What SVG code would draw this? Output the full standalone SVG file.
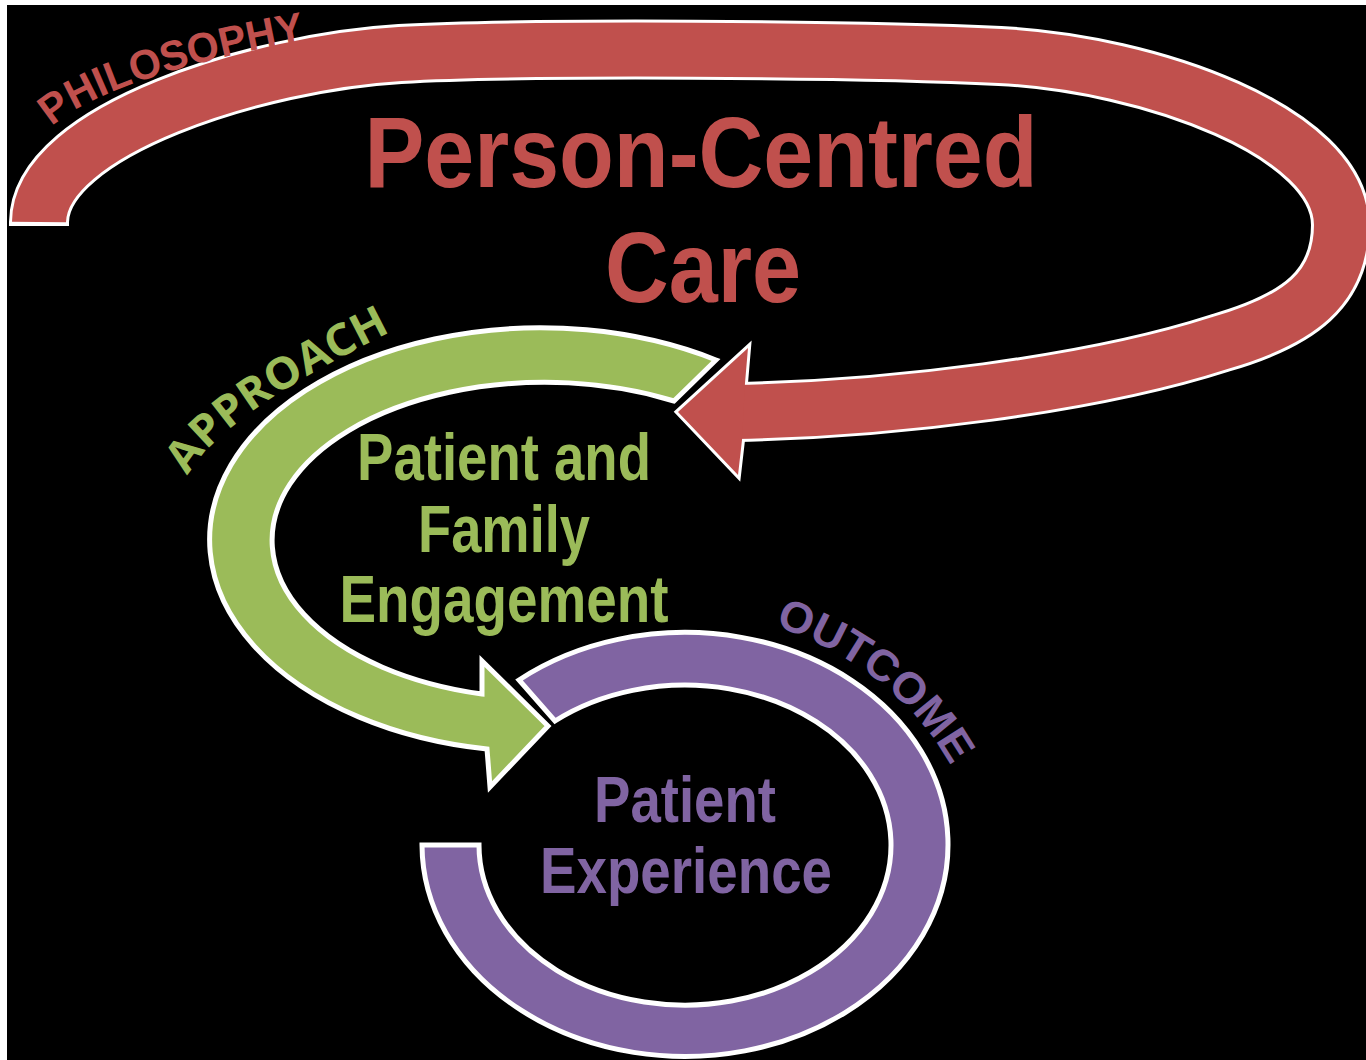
<svg xmlns="http://www.w3.org/2000/svg" width="1366" height="1060" viewBox="0 0 1366 1060">
  <style>
    .title { font-family: "Liberation Sans Narrow", "Liberation Sans", Arial, sans-serif; font-weight: bold; }
    .lbl { font-family: "Liberation Sans", Arial, sans-serif; font-weight: bold; }
    .lbl2 { font-family: "Open Sans", "Liberation Sans", sans-serif; font-weight: bold; }
    .red { fill: #C0504D; }
    .green { fill: #9BBB59; }
    .purple { fill: #8064A2; }
    .band { stroke: #FFFFFF; stroke-width: 5; stroke-linejoin: miter; }
  </style>
  <defs>
    <path id="redLine" d="M39,222 C40,130 260,62 400,54 C520,47 860,49 1000,56 C1150,63.5 1341,132 1341,225 C1341,288 1300,320 1220,343 C1090,385 890,409 735,412"/>
    <path id="pathPhil" d="M52,127 C85,94 190,60 303,41"/>
    <path id="pathAppr" d="M188,476 C216,420 335,360 390,332"/>
    <path id="pathOut" d="M775,626 C830,644 905,685 950,764"/>
  </defs>

  <rect x="0" y="0" width="1366" height="1060" fill="#FFFFFF"/>
  <rect x="7" y="5" width="1359" height="1055" fill="#000000"/>

  <g id="connectors">
    <g id="philosophy-arrow">
      <path d="M39,226 L39,222 C40,130 260,62 400,54 C520,47 860,49 1000,56 C1150,63.5 1341,132 1341,225 C1341,288 1300,320 1220,343 C1090,385 890,409 735,412" fill="none" stroke="#FFFFFF" stroke-width="60"/>
      <polygon points="745,383 748,348 678,412 738,475 742,440" class="red" stroke="#FFFFFF" stroke-width="6" stroke-linejoin="miter"/>
      <use href="#redLine" fill="none" stroke="#C0504D" stroke-width="54"/>
      <polygon points="745,383 748,348 678,412 738,475 742,440" class="red"/>
    </g>
    <path id="approach-arrow" class="green band" d="M716,360 A331,212 0 1 0 487,749 L490,787 L548,726 L482,661 L482,694 A273,158 0 1 1 674,401 Z"/>
    <path id="outcome-arc" class="purple band" d="M519,680 A263,212 0 1 1 422,845 L479,845 A206,160 0 1 0 555,721 Z"/>
  </g>

  <g id="node-person-centred-care">
    <text class="title red" x="701" y="187" font-size="100" text-anchor="middle" textLength="673" lengthAdjust="spacingAndGlyphs">Person-Centred</text>
    <text class="title red" x="703" y="302" font-size="100" text-anchor="middle" textLength="196" lengthAdjust="spacingAndGlyphs">Care</text>
    <text class="lbl red" font-size="42"><textPath href="#pathPhil" textLength="270" lengthAdjust="spacingAndGlyphs">PHILOSOPHY</textPath></text>
  </g>

  <g id="node-patient-family-engagement">
    <text class="title green" x="504" y="480" font-size="66" text-anchor="middle" textLength="294" lengthAdjust="spacingAndGlyphs">Patient and</text>
    <text class="title green" x="504" y="552" font-size="66" text-anchor="middle" textLength="172" lengthAdjust="spacingAndGlyphs">Family</text>
    <text class="title green" x="504" y="622" font-size="66" text-anchor="middle" textLength="329" lengthAdjust="spacingAndGlyphs">Engagement</text>
    <text class="lbl2 green" font-size="44"><textPath href="#pathAppr" textLength="252" lengthAdjust="spacingAndGlyphs">APPROACH</textPath></text>
  </g>

  <g id="node-patient-experience">
    <text class="title purple" x="685" y="822" font-size="64" text-anchor="middle" textLength="182" lengthAdjust="spacingAndGlyphs">Patient</text>
    <text class="title purple" x="686" y="893" font-size="64" text-anchor="middle" textLength="292" lengthAdjust="spacingAndGlyphs">Experience</text>
    <text class="lbl purple" font-size="44"><textPath href="#pathOut" textLength="230" lengthAdjust="spacingAndGlyphs">OUTCOME</textPath></text>
  </g>
</svg>
